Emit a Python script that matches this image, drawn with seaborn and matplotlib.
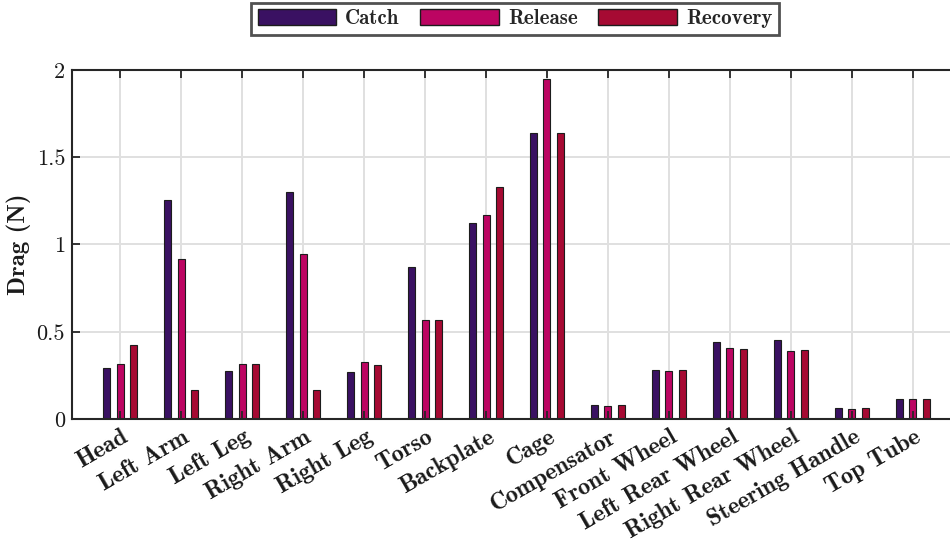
import matplotlib
matplotlib.use("Agg")
import matplotlib.pyplot as plt
import matplotlib.transforms as mtransforms
from matplotlib.ticker import FixedLocator, FuncFormatter
import numpy as np
import pandas as pd
import seaborn as sns

# Drag on each body / boat component over the three stroke phases
parts = ["Head", "Left Arm", "Left Leg", "Right Arm", "Right Leg", "Torso",
         "Backplate", "Cage", "Compensator", "Front Wheel", "Left Rear Wheel",
         "Right Rear Wheel", "Steering Handle", "Top Tube"]
phases = ["Catch", "Release", "Recovery"]
catch = [0.290, 1.255, 0.275, 1.303, 0.268, 0.873, 1.125, 1.641, 0.080, 0.283,
         0.443, 0.453, 0.061, 0.113]
release = [0.315, 0.917, 0.313, 0.944, 0.328, 0.569, 1.169, 1.948, 0.075, 0.277,
           0.407, 0.390, 0.057, 0.112]
recovery = [0.424, 0.166, 0.313, 0.165, 0.307, 0.569, 1.331, 1.641, 0.080, 0.283,
            0.399, 0.397, 0.061, 0.113]
colors = ["#3a1162", "#bc0562", "#a60a33"]
y_ticks = [0, 0.5, 1, 1.5, 2]

df = pd.DataFrame({
    "part": parts * 3,
    "phase": np.repeat(phases, len(parts)),
    "drag": catch + release + recovery,
})

sns.set_theme(style="white")
plt.rcParams["font.family"] = ["cmr10", "DejaVu Serif"]
plt.rcParams["axes.formatter.use_mathtext"] = True
plt.rcParams["mathtext.fontset"] = "cm"

ink = "#262626"
fig = plt.figure(figsize=(9.5, 5.42), dpi=100)
ax = fig.add_axes([72 / 950, 1 - 419 / 542, (961 - 72) / 950, (419 - 70) / 542])

sns.barplot(data=df, x="part", y="drag", hue="phase", order=parts,
            hue_order=phases, palette=colors, width=0.664, gap=0.48,
            edgecolor="#1c1c1c", linewidth=0.8, saturation=1, ax=ax)

ax.set_xlim(-0.79, len(parts) - 1 + 0.79)
ax.set_ylim(0, 2)
ax.yaxis.set_major_locator(FixedLocator(y_ticks))
ax.yaxis.set_major_formatter(FuncFormatter(lambda v, p: f"{v:g}"))

# light grid behind the bars, ticks on top of them
for xv in ax.get_xticks():
    ax.axvline(xv, color="#e0e0e0", lw=1.4, zorder=0.2)
for yv in y_ticks[1:-1]:
    ax.axhline(yv, color="#e0e0e0", lw=1.4, zorder=0.2)
ax.grid(False)
ax.xaxis.set_zorder(3)
ax.yaxis.set_zorder(3)

for s in ax.spines.values():
    s.set_color(ink)
    s.set_linewidth(1.5)
    s.set_zorder(3.5)

ax.tick_params(axis="both", which="major", direction="in", length=5.5,
               width=1.3, color=ink, labelcolor="#1a1a1a")
ax.tick_params(axis="x", top=True, bottom=True, pad=5)
ax.tick_params(axis="y", left=True, right=True, labelsize=16, pad=5)

ax.set_xlabel("")
ax.set_ylabel("Drag (N)", fontfamily="cmb10", fontsize=18, labelpad=4,
              color="#1a1a1a")

shift = mtransforms.ScaledTranslation(1 / 100, 0, fig.dpi_scale_trans)
for lab in ax.get_xticklabels():
    lab.set_fontfamily("cmb10")
    lab.set_fontsize(17.5)
    lab.set_rotation(30)
    lab.set_ha("right")
    lab.set_va("top")
    lab.set_rotation_mode("anchor")
    lab.set_transform(lab.get_transform() + shift)

handles, labels = ax.get_legend_handles_labels()
if ax.get_legend() is not None:
    ax.get_legend().remove()
leg = fig.legend(handles, labels, loc="upper center",
                 bbox_to_anchor=(515 / 950, 1 - 3 / 542), borderaxespad=0,
                 ncol=3, frameon=True, fancybox=False, handlelength=3.75,
                 handleheight=0.75, handletextpad=0.45, columnspacing=1.0,
                 borderpad=0.3, prop={"family": "cmb10", "size": 15})
leg.get_frame().set_edgecolor(ink)
leg.get_frame().set_linewidth(2)
for h in leg.legend_handles:
    h.set_edgecolor("#1c1c1c")
    h.set_linewidth(1)

fig.savefig("out.png", dpi=100)
